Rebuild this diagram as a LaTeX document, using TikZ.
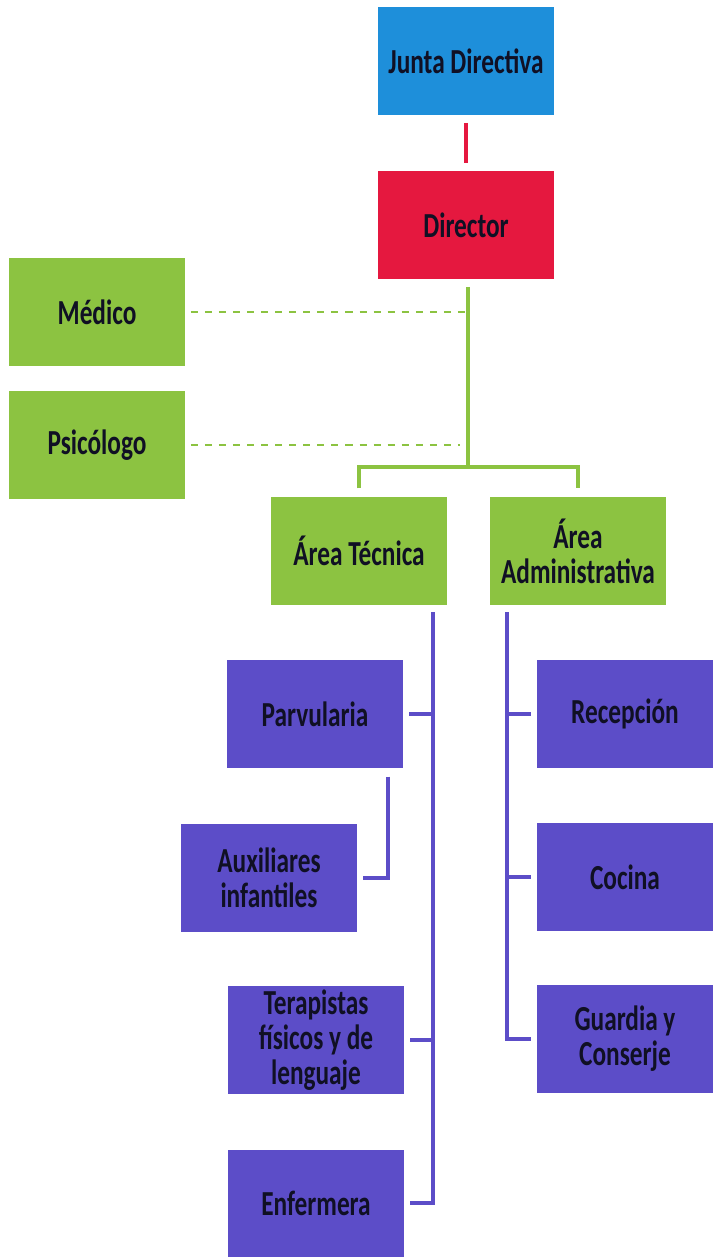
\documentclass[tikz,border=0pt]{standalone}
\usepackage{fontspec}
\setmainfont{Carlito}[FakeStretch=0.72]
\usetikzlibrary{positioning}

\definecolor{jdblue}{HTML}{1E8FDA}
\definecolor{dirred}{HTML}{E5183F}
\definecolor{areagreen}{HTML}{8CC341}
\definecolor{staffpurple}{HTML}{5C4DC8}
\definecolor{boxtext}{HTML}{101024}

\tikzset{
  box/.style={minimum width=4.375cm, minimum height=2.675cm, inner sep=0pt,
    align=center, text=boxtext, font=\fontsize{25}{25}\selectfont\bfseries},
  bluebox/.style={box, fill=jdblue},
  redbox/.style={box, fill=dirred},
  greenbox/.style={box, fill=areagreen},
  purplebox/.style={box, fill=staffpurple},
  redline/.style={draw=dirred, line width=3pt},
  greenline/.style={draw=areagreen, line width=3pt},
  dashline/.style={draw=areagreen, line width=1.6pt, dash pattern=on 5pt off 5pt},
  purpleline/.style={draw=staffpurple, line width=3pt}
}

\begin{document}
\begin{tikzpicture}[x=0.025cm, y=-0.025cm]
  \useasboundingbox (0,0) rectangle (715,1260);

  \node[bluebox] (jd) at (466,61) {Junta Directiva};
  \node[redbox] (dir) at (466,225) {Director};
  \node[greenbox] (med) at (97,312) {Médico};
  \node[greenbox] (psi) at (97,445) {Psicólogo};
  \node[greenbox] (tec) at (359,551) {Área Técnica};
  \node[greenbox] (adm) at (578,551) {Área\\Administrativa};

  \node[purplebox] (parv) at (315,714) {Parvularia};
  \node[purplebox] (aux) at (269,878) {Auxiliares\\infantiles};
  \node[purplebox] (ter) at (316,1040) {Terapistas\\físicos y de\\lenguaje};
  \node[purplebox] (enf) at (316,1203) {Enfermera};

  \node[purplebox] (rec) at (625,714) {Recepción};
  \node[purplebox] (coc) at (625,877) {Cocina};
  \node[purplebox] (guard) at (625,1039) {Guardia y\\Conserje};

  \coordinate (split) at (468,467);
  \coordinate (tspine) at (433,605);
  \coordinate (aspine) at (507,605);

  \draw[redline, shorten <=0.2cm, shorten >=0.2cm] (jd.south) -- (dir.north);

  \draw[greenline, shorten <=0.2cm] (dir.south -| split) -- (split);
  \draw[greenline, shorten <=0.22cm, shorten >=0.22cm] (tec.north) |- (split) -| (adm.north);
  \draw[dashline, shorten <=0.15cm] (med.east) -- (med.east -| split);
  \draw[dashline, shorten <=0.15cm, shorten >=0.2cm] (psi.east) -- (psi.east -| split);

  \draw[purpleline, shorten <=0.18cm, shorten >=0.15cm] (tspine) |- (enf.east);
  \draw[purpleline, shorten >=0.15cm] (parv.east -| tspine) -- (parv.east);
  \draw[purpleline, shorten >=0.15cm] (ter.east -| tspine) -- (ter.east);
  \draw[purpleline, shorten <=0.22cm, shorten >=0.15cm] ([xshift=1.825cm]parv.south) |- (aux.east);

  \draw[purpleline, shorten <=0.18cm, shorten >=0.15cm] (aspine) |- (guard.west);
  \draw[purpleline, shorten >=0.15cm] (rec.west -| aspine) -- (rec.west);
  \draw[purpleline, shorten >=0.15cm] (coc.west -| aspine) -- (coc.west);
\end{tikzpicture}
\end{document}
